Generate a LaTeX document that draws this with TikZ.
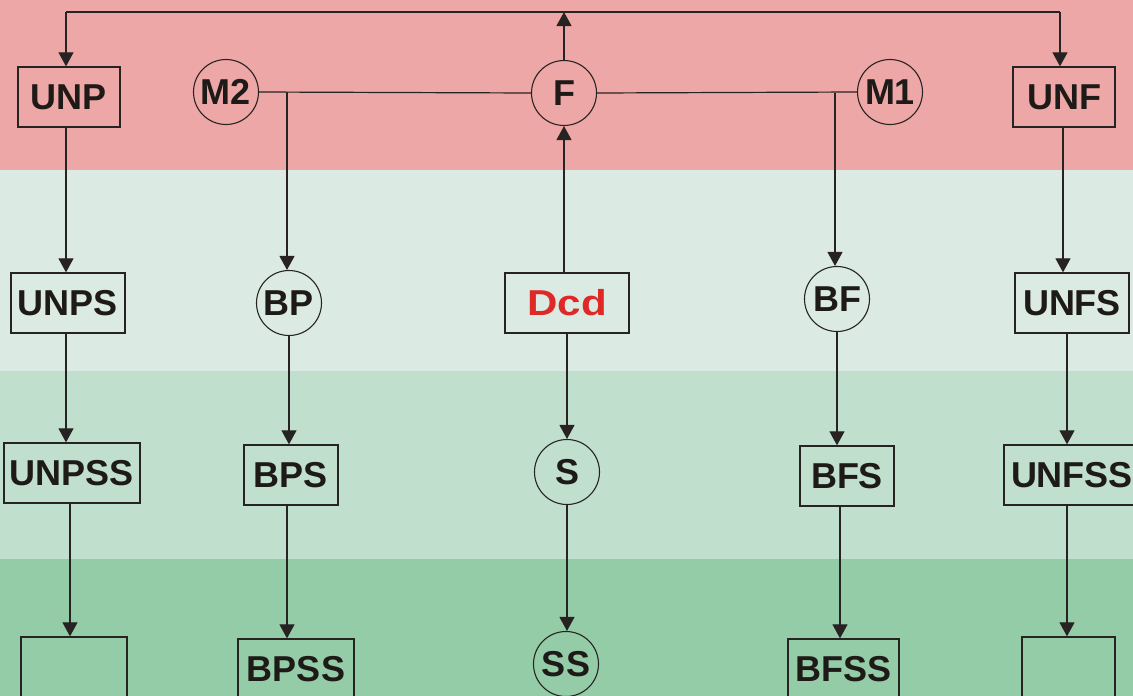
\documentclass[tikz,border=0pt]{standalone}
\usepackage{fontspec}
\usepackage{graphicx}
\setmainfont{Liberation Sans}
\usetikzlibrary{arrows.meta}
\definecolor{bandA}{RGB}{237,167,166}
\definecolor{bandB}{RGB}{219,235,227}
\definecolor{bandC}{RGB}{193,223,205}
\definecolor{bandD}{RGB}{147,204,166}
\definecolor{ink}{RGB}{40,35,35}
\definecolor{txt}{RGB}{30,26,24}
\definecolor{redtxt}{RGB}{224,40,38}
\begin{document}
\begin{tikzpicture}[x=1pt,y=-1pt,
  lbl/.style={inner sep=0pt,text=txt,font=\fontsize{36}{40}\selectfont\bfseries},
  boxn/.style={lbl,draw=ink,line width=1.3pt,rectangle,minimum height=60pt},
  circn/.style={lbl,draw=ink,line width=1.1pt,circle,minimum size=65pt},
  conn/.style={draw=ink,line width=1.2pt},
  arr/.style={conn,-{Triangle[width=15pt,length=14pt]}}]
\useasboundingbox (0,0) rectangle (1133,696);
\begin{scope}
\clip (0,0) rectangle (1133,696);
\fill[bandA] (0,0) rectangle (1133,170);
\fill[bandB] (0,170) rectangle (1133,371);
\fill[bandC] (0,371) rectangle (1133,559);
\fill[bandD] (0,559) rectangle (1133,696);
% nodes
\node[boxn,minimum width=102pt] (UNP) at (69,97) {UNP};
\node[circn] (M2) at (226,92) {M2};
\node[circn] (F) at (564,93) {F};
\node[circn] (M1) at (890,92) {M1};
\node[boxn,minimum width=102pt] (UNF) at (1064,97) {UNF};
\node[boxn,minimum width=114pt] (UNPS) at (68,303) {UNPS};
\node[circn] (BP) at (289,303) {BP};
\node[boxn,minimum width=124pt,text=redtxt] (Dcd) at (567,303) {\scalebox{1.17}[1]{Dcd}};
\node[circn] (BF) at (837,299) {BF};
\node[boxn,minimum width=114pt] (UNFS) at (1072,303) {UNFS};
\node[boxn,minimum width=136pt] (UNPSS) at (72,473) {UNPSS};
\node[boxn,minimum width=94pt] (BPS) at (291,475) {BPS};
\node[circn] (S) at (567,472) {S};
\node[boxn,minimum width=94pt] (BFS) at (847,476) {BFS};
\node[boxn,minimum width=136pt] (UNFSS) at (1072,475) {UNFSS};
\node[boxn,minimum width=106pt] (E1) at (74,667) {};
\node[boxn,minimum width=116pt] (BPSS) at (296,669) {BPSS};
\node[circn] (SS) at (566,664) {SS};
\node[boxn,minimum width=111pt] (BFSS) at (843.5,669) {BFSS};
\node[boxn,minimum width=93pt] (E2) at (1068.5,667) {};
% coordinates
\coordinate (tl) at (66,12);
\coordinate (tr) at (1060,12);
\coordinate (j1) at (287,92);
\coordinate (j2) at (835,93);
% connectors
\draw[conn] (tl) -- (tr);
\draw[arr] (tl) -- (tl |- UNP.north);
\draw[arr] (tr) -- (tr |- UNF.north);
\draw[arr] (F.north) -- (F.north |- tl);
\draw[conn] (M2.east) -- (F.west);
\draw[conn] (F.east) -- (M1.west);
\draw[arr] (j1) -- (j1 |- BP.north);
\draw[arr] (j2) -- (j2 |- BF.north);
\draw[arr] (564,0 |- Dcd.north) -- (F.south);
\draw[arr] (Dcd.south) -- (S.north);
\draw[arr] (S.south) -- (S.south |- SS.north);
\draw[arr] (66,0 |- UNP.south) -- (66,0 |- UNPS.north);
\draw[arr] (66,0 |- UNPS.south) -- (66,0 |- UNPSS.north);
\draw[arr] (70,0 |- UNPSS.south) -- (70,0 |- E1.north);
\draw[arr] (BP.south) -- (BP.south |- BPS.north);
\draw[arr] (287,0 |- BPS.south) -- (287,0 |- BPSS.north);
\draw[arr] (BF.south) -- (BF.south |- BFS.north);
\draw[arr] (840,0 |- BFS.south) -- (840,0 |- BFSS.north);
\draw[arr] (1063,0 |- UNF.south) -- (1063,0 |- UNFS.north);
\draw[arr] (1067,0 |- UNFS.south) -- (1067,0 |- UNFSS.north);
\draw[arr] (1067,0 |- UNFSS.south) -- (1067,0 |- E2.north);
\end{scope}
\end{tikzpicture}
\end{document}
